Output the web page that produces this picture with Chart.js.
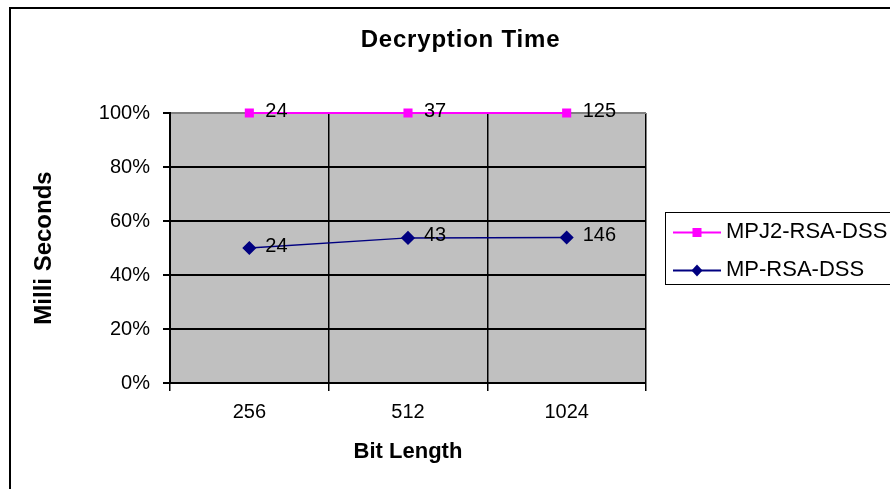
<!DOCTYPE html>
<html>
<head>
<meta charset="utf-8">
<script src="https://cdn.jsdelivr.net/npm/chart.js@4.4.1/dist/chart.umd.min.js"></script>
<style>
  html, body { margin: 0; padding: 0; background: #fff; overflow: hidden; }
  #wrap { position: relative; width: 890px; height: 489px; }
  canvas { display: block; }
</style>
</head>
<body>
<div id="wrap"><canvas id="c" width="890" height="489"></canvas></div>
<script>
// ---- Data ----
const categories = ['256', '512', '1024'];
const mpj2Values = [24, 37, 125];   // MPJ2-RSA-DSS (ms)
const mpValues = [24, 43, 146];     // MP-RSA-DSS (ms)
const yTicks = [0, 20, 40, 60, 80, 100];
const chartTitle = 'Decryption Time';
const xTitle = 'Bit Length';
const yTitle = 'Milli Seconds';

// 100% stacked shares (derived from raw values)
const totals = categories.map((_, i) => mpValues[i] + mpj2Values[i]);
const mpShare = mpValues.map((v, i) => v / totals[i] * 100);
const mpj2Share = mpj2Values.map((v, i) => v / totals[i] * 100);

const FONT = "'Liberation Sans', Arial, sans-serif";

const bgPlugin = {
  id: 'bg',
  beforeDraw(chart) {
    const {ctx, chartArea: a} = chart;
    ctx.save();
    ctx.fillStyle = '#C0C0C0';
    ctx.fillRect(a.left, a.top, a.right - a.left, a.bottom - a.top);
    ctx.restore();
  }
};

const decorPlugin = {
  id: 'decor',
  afterDraw(chart) {
    const {ctx} = chart;
    ctx.save();
    // outer frame
    ctx.fillStyle = '#000';
    ctx.fillRect(9, 7, 900, 2);
    ctx.fillRect(9, 7, 2, 500);
    // title
    ctx.font = 'bold 24px ' + FONT;
    ctx.textAlign = 'left';
    ctx.textBaseline = 'middle';
    if ('letterSpacing' in ctx) ctx.letterSpacing = '0.8px';
    const tw = ctx.measureText(chartTitle).width;
    ctx.fillText(chartTitle, 460.5 - tw / 2, 40);
    if ('letterSpacing' in ctx) ctx.letterSpacing = '0px';

    // data labels
    ctx.font = '20px ' + FONT;
    ctx.textAlign = 'left';
    chart.data.datasets.forEach((ds, di) => {
      const meta = chart.getDatasetMeta(di);
      meta.data.forEach((pt, i) => {
        ctx.fillText(String(ds.rawValues[i]), pt.x + 16, pt.y - 2);
      });
    });

    // legend
    ctx.strokeStyle = '#000';
    ctx.lineWidth = 1;
    ctx.strokeRect(665.5, 212.5, 300, 72);
    const order = [1, 0];
    order.forEach((di, row) => {
      const ds = chart.data.datasets[di];
      const y = 232 + row * 38;
      ctx.strokeStyle = ds.borderColor;
      ctx.lineWidth = 2;
      ctx.beginPath();
      ctx.moveTo(673, y + 0.5);
      ctx.lineTo(721, y + 0.5);
      ctx.stroke();
      ctx.fillStyle = ds.borderColor;
      if (ds.pointStyle === 'rect') {
        ctx.fillRect(697 - 4.5, y - 4, 9, 9);
      } else {
        ctx.beginPath();
        ctx.moveTo(697, y - 5.5);
        ctx.lineTo(702.5, y + 0.5);
        ctx.lineTo(697, y + 6.5);
        ctx.lineTo(691.5, y + 0.5);
        ctx.closePath();
        ctx.fill();
      }
      ctx.fillStyle = '#000';
      ctx.font = '22px ' + FONT;
      ctx.textAlign = 'left';
      ctx.textBaseline = 'middle';
      ctx.fillText(ds.label, 726, y);
    });
    ctx.restore();
  }
};

new Chart(document.getElementById('c'), {
  type: 'line',
  data: {
    labels: categories,
    datasets: [
      {
        label: 'MP-RSA-DSS',
        data: mpShare,
        rawValues: mpValues,
        borderColor: '#000080',
        backgroundColor: '#000080',
        borderWidth: 1.5,
        pointStyle: 'rectRot',
        pointRadius: 6,
        pointHoverRadius: 6,
        fill: false,
        clip: false
      },
      {
        label: 'MPJ2-RSA-DSS',
        data: mpj2Share,
        rawValues: mpj2Values,
        borderColor: '#FF00FF',
        backgroundColor: '#FF00FF',
        borderWidth: 2,
        pointStyle: 'rect',
        pointRadius: 5,
        pointHoverRadius: 5,
        fill: false,
        clip: false
      }
    ]
  },
  options: {
    responsive: false,
    animation: false,
    devicePixelRatio: 1,
    layout: { padding: { left: 10, top: 113, right: 244, bottom: 0 } },
    plugins: {
      legend: { display: false },
      title: { display: false },
      tooltip: { enabled: false }
    },
    scales: {
      x: {
        offset: true,
        grid: {
          offset: true,
          color: (c) => (c.index === categories.length ? '#808080' : '#000'),
          lineWidth: 1.5,
          tickLength: 8,
          tickColor: '#000'
        },
        border: { display: true, color: '#000', width: 2 },
        ticks: {
          color: '#000',
          font: { family: FONT, size: 20 },
          padding: 9,
          maxRotation: 0
        },
        title: {
          display: true,
          text: xTitle,
          color: '#000',
          font: { family: FONT, size: 22, weight: 'bold' },
          padding: { top: 0, bottom: 24 }
        },
        afterFit(scale) { scale.height = 106; }
      },
      y: {
        stacked: true,
        min: 0,
        max: 100,
        afterBuildTicks(scale) { scale.ticks = yTicks.map(v => ({ value: v })); },
        grid: {
          color: (c) => (c.tick && c.tick.value === 100 ? '#808080' : '#000'),
          lineWidth: 2,
          tickLength: 7,
          tickColor: '#000'
        },
        border: { display: true, color: '#000', width: 2 },
        ticks: {
          color: '#000',
          font: { family: FONT, size: 20 },
          padding: 13,
          callback: (v) => v + '%'
        },
        title: {
          display: true,
          text: yTitle,
          color: '#000',
          font: { family: FONT, size: 24, weight: 'bold' },
          padding: { top: 20, bottom: 0 }
        },
        afterFit(scale) { scale.width = 160; }
      }
    }
  },
  plugins: [bgPlugin, decorPlugin]
});
</script>
</body>
</html>
